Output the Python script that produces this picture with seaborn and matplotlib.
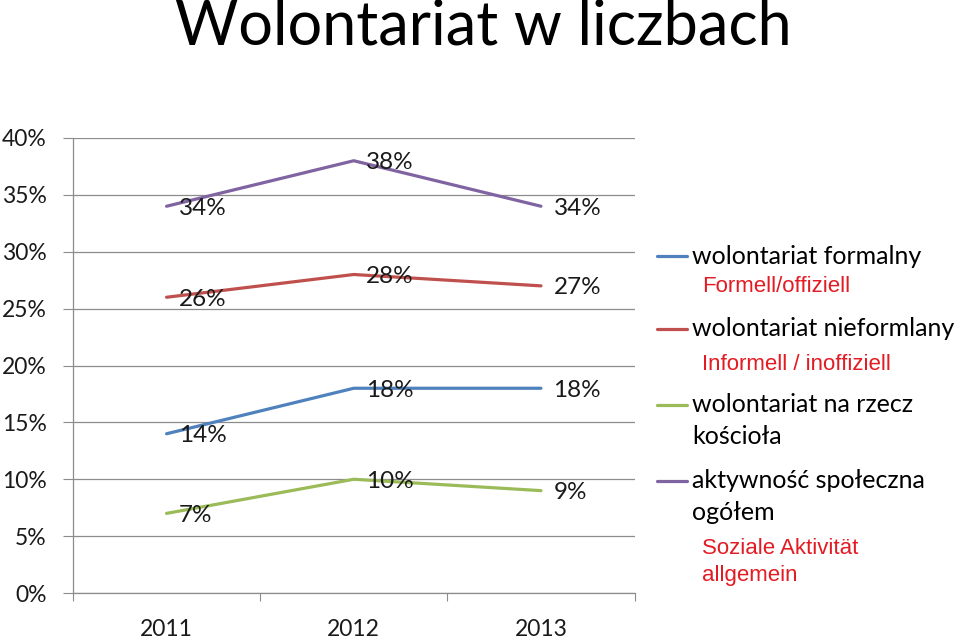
import matplotlib
matplotlib.use("Agg")
import matplotlib.pyplot as plt
from matplotlib.lines import Line2D
import seaborn as sns
import pandas as pd

years = ["2011", "2012", "2013"]
series_names = ["wolontariat formalny", "wolontariat nieformlany",
                "wolontariat na rzecz kościoła", "aktywność społeczna ogółem"]
formalny = [14, 18, 18]
nieformalny = [26, 28, 27]
kosciol = [7, 10, 9]
ogolem = [34, 38, 34]
colors = ["#4F81BD", "#C0504D", "#9BBB59", "#8064A2"]
yticks = [0, 5, 10, 15, 20, 25, 30, 35, 40]

values = [formalny, nieformalny, kosciol, ogolem]
rows = []
for name, vals in zip(series_names, values):
    for i, v in enumerate(vals):
        rows.append({"pos": i, "year": years[i], "value": v, "series": name})
df = pd.DataFrame(rows)

sns.set_style("white")
plt.rcParams["font.family"] = ["Lato", "DejaVu Sans"]

fig = plt.figure(figsize=(9.6, 6.4), dpi=100)
ax = fig.add_axes([0.076, 0.0734, 0.585, 0.711])

sns.lineplot(data=df, x="pos", y="value", hue="series", hue_order=series_names,
             palette=colors, linewidth=2.3, ax=ax, legend=False, sort=False)

for name, vals in zip(series_names, values):
    for i, v in enumerate(vals):
        ax.annotate(f"{v}%", (i, v), xytext=(9, -1.5), textcoords="offset points",
                    ha="left", va="center", fontsize=17.5, color="#1a1a1a")

ax.set_xlim(-0.5, 2.5)
ax.set_ylim(0, 40)
ax.set_yticks(yticks)
ax.set_yticklabels([f"{t}%" for t in yticks], fontsize=16.5, color="#1a1a1a")
ax.yaxis.grid(True, color="#8c8c8c", linewidth=0.9)
ax.set_axisbelow(True)
ax.set_xticks([-0.5, 0.5, 1.5, 2.5])
ax.set_xticklabels([])
ax.set_xticks([0, 1, 2], minor=True)
ax.set_xticklabels(years, minor=True, fontsize=16.5, color="#1a1a1a")
ax.tick_params(axis="x", which="major", length=6, color="#8c8c8c", direction="out", bottom=True)
ax.tick_params(axis="x", which="minor", length=0, pad=19)
ax.tick_params(axis="y", length=7, color="#8c8c8c", direction="out", left=True, pad=12)
ax.set_xlabel("")
ax.set_ylabel("")
for s in ["top", "right"]:
    ax.spines[s].set_visible(False)
for s in ["left", "bottom"]:
    ax.spines[s].set_color("#8c8c8c")
    ax.spines[s].set_linewidth(0.9)

fig.text(0.503, 0.958, "Wolontariat w liczbach", ha="center", va="center",
         fontsize=44, color="black")

# legend
leg_items = [
    (series_names[0], [256], ["wolontariat formalny"], ["Formell/offiziell"], [287]),
    (series_names[1], [329], ["wolontariat nieformlany"], ["Informell / inoffiziell"], [364]),
    (series_names[2], [405, 437], ["wolontariat na rzecz", "kościoła"], [], []),
    (series_names[3], [481, 513], ["aktywność społeczna", "ogółem"],
     ["Soziale Aktivität", "allgemein"], [549, 576]),
]
for (name, ys, lines, reds, rys), col in zip(leg_items, colors):
    y0 = 1 - ys[0] / 640
    fig.add_artist(Line2D([657 / 960, 687 / 960], [y0, y0], color=col, linewidth=2.3,
                          transform=fig.transFigure))
    for t, yy in zip(lines, ys):
        fig.text(692 / 960, 1 - yy / 640, t, ha="left", va="center", fontsize=18,
                 color="black")
    for t, yy in zip(reds, rys):
        fig.text(702 / 960, 1 - yy / 640, t, ha="left", va="center", fontsize=16,
                 color="#E31B23", family=["Liberation Sans", "DejaVu Sans"])

fig.savefig("out.png", dpi=100)
